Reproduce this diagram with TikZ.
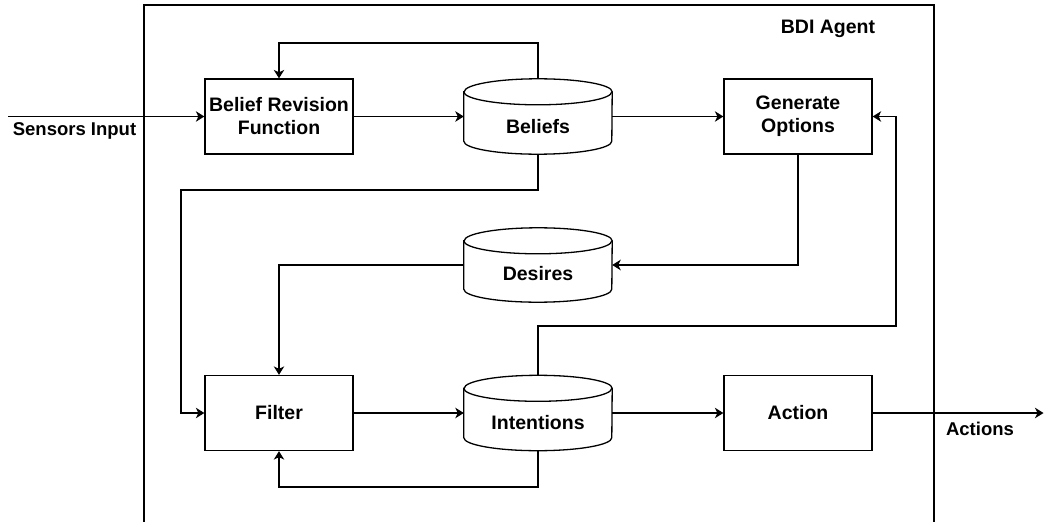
\documentclass[tikz,border=0pt]{standalone}
\usepackage{fontspec}
\setmainfont{Liberation Sans}
\usetikzlibrary{arrows.meta,calc}
\newcommand\drawcyl[1]{%
  \path[plain, draw, fill=white] let \p1=(#1.north west), \p2=(#1.south east) in
    (\x1,\y1-13pt) -- (\x1,\y2+13pt)
    arc[start angle=180,end angle=360,x radius=74pt,y radius=13pt]
    -- (\x2,\y1-13pt)
    arc[start angle=0,end angle=180,x radius=74pt,y radius=13pt] -- cycle;
  \draw[plain] let \p1=(#1.north west) in (\x1,\y1-13pt)
    arc[start angle=180,end angle=360,x radius=74pt,y radius=13pt];
}
\begin{document}
\begin{tikzpicture}[x=1pt,y=1pt,
  every node/.style={font=\bfseries\fontsize{19.5}{23}\selectfont},
  proc/.style={draw, line width=1.3pt, minimum width=148pt, minimum height=75pt, align=center, inner sep=0pt, fill=white},
  cylslot/.style={minimum width=148pt, minimum height=75pt, inner sep=0pt},
  cyltext/.style={inner sep=0pt},
  conn/.style={line width=1.3pt, -{Stealth[length=8.5pt,width=10.5pt,inset=2.5pt]}},
  plain/.style={line width=1.3pt},
  lab/.style={font=\bfseries\fontsize{18.5}{22}\selectfont, inner sep=0pt}
]
\fill[white] (0,0) rectangle (1044,-522);
\useasboundingbox (0,0) rectangle (1044,-522);
% outer agent box
\draw[plain] (144,-522) -- (144,-5) -- (934,-5) -- (934,-522);
\node[inner sep=0pt] (title) at (828,-29) {BDI Agent};

% process boxes
\node[proc] (brf) at (279,-116.5) {Belief Revision\\Function};
\node[proc] (gen) at (798,-116.5) {Generate\\Options};
\node[proc] (filter) at (279,-413) {Filter};
\node[proc] (action) at (798,-413) {Action};

% cylinders
\node[cylslot] (beliefs) at (538,-116.5) {};
\drawcyl{beliefs}
\node[cyltext] (beliefs-t) at ([yshift=-10pt]beliefs.center) {Beliefs};
\node[cylslot, minimum height=74pt] (desires) at (538,-265) {};
\drawcyl{desires}
\node[cyltext] (desires-t) at ([yshift=-9pt]desires.center) {Desires};
\node[cylslot] (intentions) at (538,-413) {};
\drawcyl{intentions}
\node[cyltext] (intentions-t) at ([yshift=-10pt]intentions.center) {Intentions};

% helper coordinates
\coordinate (sin) at (8,-116.5);
\coordinate (aout) at (1043.5,-413);
\coordinate (bt) at (279,-43);
\coordinate (bl) at (181,-190);
\coordinate (il) at (279,-487);
\coordinate (ir) at (896,-326);

% connectors
\draw[conn] (sin) -- (brf.west);
\node[lab] (sl) at (74.5,-131) {Sensors Input};
\draw[conn] (brf.east) -- (beliefs.west);
\draw[conn] (beliefs.east) -- (gen.west);
\draw[conn] (beliefs.north) |- (bt) -- (brf.north);
\draw[conn] (beliefs.south) |- (bl) |- (filter.west);
\draw[conn] (gen.south) |- (desires.east);
\draw[conn] (desires.west) -| (filter.north);
\draw[conn] (filter.east) -- (intentions.west);
\draw[conn] (intentions.east) -- (action.west);
\draw[conn] (intentions.south) |- (il) -- (filter.south);
\draw[conn] (intentions.north) |- (ir) |- (gen.east);
\draw[conn] (action.east) -- (aout);
\node[lab] (al) at (980,-429) {Actions};
\end{tikzpicture}
\end{document}
